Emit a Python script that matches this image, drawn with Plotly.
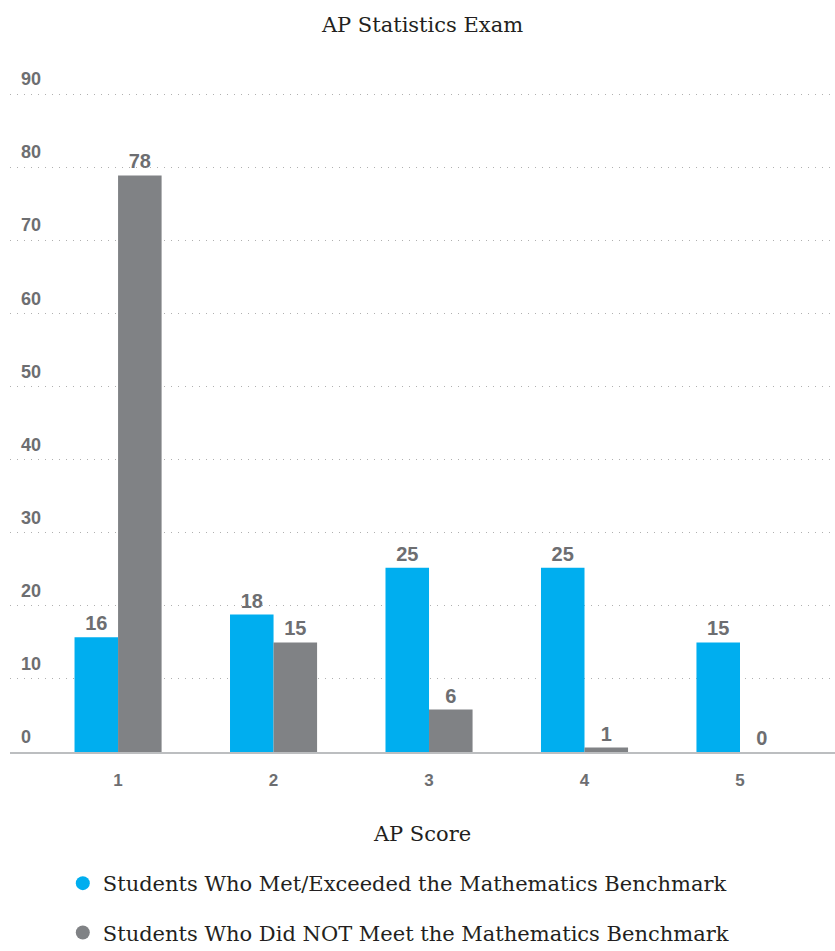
import plotly.graph_objects as go

categories = ["1", "2", "3", "4", "5"]
met_values = [15.7, 18.8, 25.2, 25.2, 15.0]
met_labels = ["16", "18", "25", "25", "15"]
not_met_values = [78.9, 15.0, 5.8, 0.6, 0.0]
not_met_labels = ["78", "15", "6", "1", "0"]
y_ticks = [0, 10, 20, 30, 40, 50, 60, 70, 80, 90]
series_names = ["Students Who Met/Exceeded the Mathematics Benchmark",
                "Students Who Did NOT Meet the Mathematics Benchmark"]

BLUE = "#00AEEF"
GREY = "#808285"
LABEL = "#6D6E71"
SERIF = "DejaVu Serif"
SANS = "Liberation Sans"

fig = go.Figure()
for vals, labels, color in [(met_values, met_labels, BLUE), (not_met_values, not_met_labels, GREY)]:
    fig.add_trace(go.Bar(
        x=categories, y=vals, text=labels, texttemplate="%{text}",
        textposition="outside", cliponaxis=False, constraintext="none",
        textfont=dict(family=SANS, size=20, color=LABEL, weight="bold"),
        marker=dict(color=color, line=dict(width=0)),
        showlegend=False, hoverinfo="skip",
    ))

for name, color in zip(series_names, [BLUE, GREY]):
    fig.add_trace(go.Scatter(
        x=[None], y=[None], mode="markers", name=name, legendgroup=name,
        marker=dict(color=color, size=14, symbol="circle"),
    ))

for t in y_ticks:
    fig.add_annotation(
        x=0, xref="paper", y=t, yref="y", text=f"<b>{t}</b>", showarrow=False,
        xanchor="left", yanchor="bottom", xshift=9, yshift=3,
        font=dict(family=SANS, size=18, color=LABEL),
    )

fig.update_layout(
    width=835, height=951,
    margin=dict(l=10, r=0, t=87, b=199),
    paper_bgcolor="white", plot_bgcolor="white",
    barmode="group", bargap=0.44, bargroupgap=0,
    title=dict(text="AP Statistics Exam", x=0.5, xref="paper", y=1 - 25 / 951,
               yref="container", yanchor="middle",
               font=dict(family=SERIF, size=21, color="#231F20")),
    xaxis=dict(
        type="category", range=[-0.695, 4.611], showgrid=False,
        showline=True, linecolor="#BCBEC0", linewidth=2, ticks="",
        tickfont=dict(family=SANS, size=17, color=LABEL, weight="bold"),
        ticklabelstandoff=12,
        title=dict(text="AP Score", standoff=37,
                   font=dict(family=SERIF, size=21, color="#231F20")),
    ),
    yaxis=dict(
        range=[0, 91], tickvals=y_ticks, showticklabels=False,
        showgrid=True, gridcolor="#B0B0B0", gridwidth=1, griddash="1px,6px",
        zeroline=False, showline=False, ticks="",
    ),
    legend=dict(
        orientation="v", x=0.064, xanchor="left", xref="paper",
        y=1 - 863 / 951, yref="container", yanchor="top",
        traceorder="grouped", tracegroupgap=19,
        font=dict(family=SERIF, size=21, color="#231F20"),
        itemclick=False,
    ),
)

fig.write_html("out.html")
